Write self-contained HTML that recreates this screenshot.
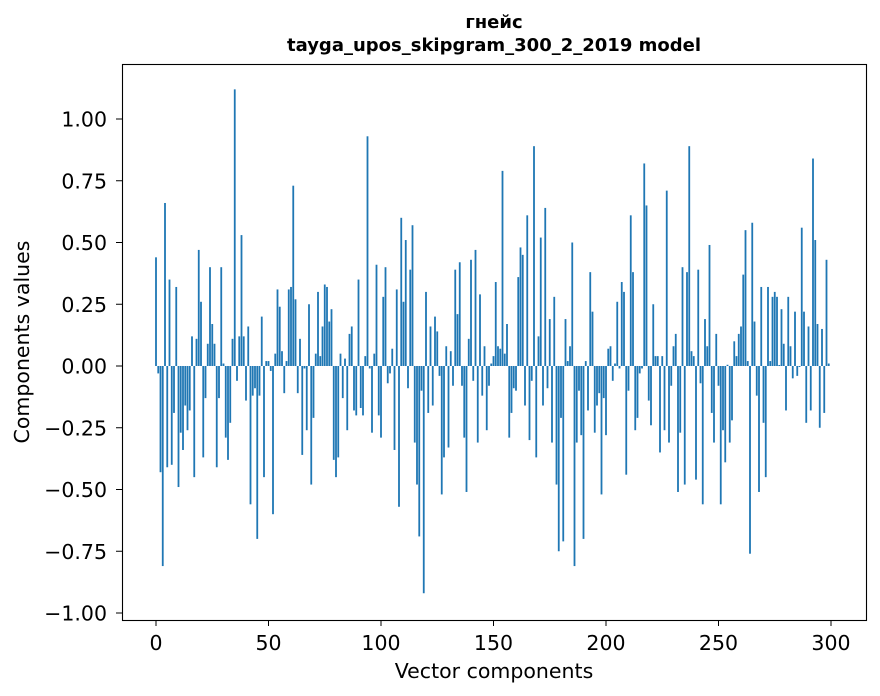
<!DOCTYPE html>
<html><head><meta charset="utf-8"><style>
html,body{margin:0;padding:0;background:#fff;}
svg{display:block;font-family:"DejaVu Sans","Liberation Sans",sans-serif;}
</style></head><body>
<svg id="chart" width="880" height="696" viewBox="0 0 880 696">
<rect width="880" height="696" fill="#fff"/>
<text x="494" y="28" text-anchor="middle" font-size="18" font-weight="bold">гнейс</text>
<text x="494" y="51" text-anchor="middle" font-size="18" font-weight="bold">tayga_upos_skipgram_300_2_2019 model</text>
<g id="bars"></g>
<g id="xticks"></g>
<g id="yticks"></g>
<rect x="122.5" y="64.5" width="744" height="556" fill="none" stroke="#000" stroke-width="1.1"/>
<text x="494" y="678" text-anchor="middle" font-size="20.5">Vector components</text>
<text x="29" y="342" text-anchor="middle" font-size="20.5" transform="rotate(-90 29 342)">Components values</text>
</svg>
<script>
const values = [
0.44,-0.03,-0.43,-0.81,0.66,-0.41,0.35,-0.40,-0.19,0.32,
-0.49,-0.27,-0.34,-0.16,-0.26,-0.18,0.12,-0.45,0.11,0.47,
0.26,-0.37,-0.13,0.09,0.40,0.17,0.09,-0.41,-0.13,0.40,
0.01,-0.29,-0.38,-0.23,0.11,1.12,-0.06,0.12,0.53,0.12,
-0.14,0.16,-0.56,-0.12,-0.09,-0.70,-0.12,0.20,-0.45,0.02,
0.02,-0.02,-0.60,0.05,0.31,0.24,0.06,-0.11,0.02,0.31,
0.32,0.73,0.27,-0.11,0.11,-0.36,-0.01,-0.26,0.25,-0.48,
-0.21,0.05,0.30,0.04,0.16,0.33,0.32,0.18,0.23,-0.38,
-0.45,-0.37,0.05,-0.13,0.03,-0.26,0.13,0.16,-0.18,-0.20,
0.35,-0.17,-0.20,0.04,0.93,-0.01,-0.27,0.05,0.41,-0.20,
-0.29,0.28,0.40,-0.07,-0.03,0.07,-0.34,0.31,-0.57,0.60,
0.26,0.51,-0.09,0.39,0.57,-0.31,-0.48,-0.69,-0.10,-0.92,
0.30,-0.19,0.16,-0.16,0.20,0.14,-0.04,-0.52,-0.37,0.08,
-0.33,0.06,-0.08,0.39,0.21,0.42,-0.08,-0.29,-0.51,0.11,
0.43,-0.06,0.47,-0.31,0.29,-0.12,0.08,-0.26,-0.08,0.01,
0.04,0.34,0.08,0.07,0.79,0.05,0.17,-0.29,-0.19,-0.09,
-0.10,0.36,0.48,0.45,-0.16,0.61,-0.30,-0.06,0.89,-0.37,
0.12,0.52,-0.16,0.64,-0.09,0.19,-0.31,0.28,-0.48,-0.75,
-0.21,-0.71,0.19,0.02,0.08,0.50,-0.81,-0.31,-0.10,-0.28,
-0.70,0.02,-0.18,0.38,0.22,-0.27,-0.16,-0.11,-0.52,-0.13,
-0.28,0.07,0.08,-0.06,0.01,0.26,-0.01,0.34,0.30,-0.44,
-0.10,0.61,0.38,-0.26,-0.21,-0.03,-0.01,0.82,0.65,-0.14,
-0.24,0.25,0.04,0.04,-0.35,0.04,-0.26,0.71,-0.31,-0.08,
0.08,0.13,-0.51,-0.27,0.40,-0.48,0.38,0.89,0.06,0.04,
-0.46,0.39,-0.07,-0.56,0.19,0.08,0.49,-0.19,-0.31,0.13,
-0.08,-0.56,-0.26,-0.39,0.005,-0.31,-0.22,0.10,0.04,0.13,
0.16,0.37,0.55,0.02,-0.76,0.58,0.18,-0.12,-0.51,0.32,
-0.23,-0.45,0.32,0.02,0.28,0.30,0.28,0.004,0.23,0.09,
-0.18,0.28,0.08,-0.05,0.22,-0.04,-0.004,0.56,0.22,-0.23,
0.16,-0.18,0.84,0.51,0.17,-0.25,0.15,-0.19,0.43,0.01
];
const xTickValues = [0,50,100,150,200,250,300];
const yTickValues = [-1.00,-0.75,-0.50,-0.25,0.00,0.25,0.50,0.75,1.00];
const yTickLabels = ["\u22121.00","\u22120.75","\u22120.50","\u22120.25","0.00","0.25","0.50","0.75","1.00"];

const NS = "http://www.w3.org/2000/svg";
const xScale = v => 156 + v * 2.25;
const yScale = v => 366 - v * 247;

const bars = document.getElementById('bars');
values.forEach((v, i) => {
  const r = document.createElementNS(NS, 'rect');
  const x0 = xScale(i - 0.4), x1 = xScale(i + 0.4);
  const y0 = yScale(Math.max(v, 0)), y1 = yScale(Math.min(v, 0));
  r.setAttribute('x', x0);
  r.setAttribute('width', x1 - x0);
  r.setAttribute('y', y0);
  r.setAttribute('height', Math.max(y1 - y0, 0.3));
  r.setAttribute('fill', '#1f77b4');
  
  
  bars.appendChild(r);
});

const xt = document.getElementById('xticks');
xTickValues.forEach(v => {
  const x = xScale(v);
  const l = document.createElementNS(NS, 'line');
  l.setAttribute('x1', x); l.setAttribute('x2', x);
  l.setAttribute('y1', 620); l.setAttribute('y2', 626);
  l.setAttribute('stroke', '#000');
  
  
  xt.appendChild(l);
  const t = document.createElementNS(NS, 'text');
  t.setAttribute('x', x); t.setAttribute('y', 650);
  t.setAttribute('text-anchor', 'middle');
  t.setAttribute('font-size', '20.5');
  t.textContent = v;
  
  
  xt.appendChild(t);
});

const yt = document.getElementById('yticks');
yTickValues.forEach((v, i) => {
  const y = yScale(v);
  const l = document.createElementNS(NS, 'line');
  l.setAttribute('x1', 116); l.setAttribute('x2', 122);
  l.setAttribute('y1', y); l.setAttribute('y2', y);
  l.setAttribute('stroke', '#000');
  
  
  yt.appendChild(l);
  const t = document.createElementNS(NS, 'text');
  t.setAttribute('x', 107); t.setAttribute('y', y + 7.5);
  t.setAttribute('text-anchor', 'end');
  t.setAttribute('font-size', '20.5');
  t.textContent = yTickLabels[i];
  
  
  yt.appendChild(t);
});
</script>
</body></html>
